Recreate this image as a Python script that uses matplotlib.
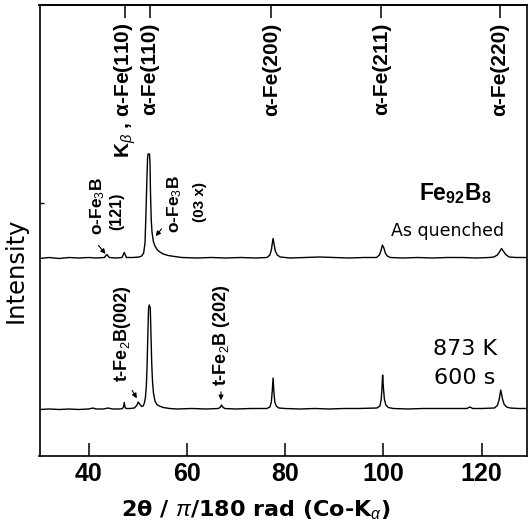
import matplotlib
matplotlib.use('Agg')
import matplotlib.pyplot as plt

plt.rcParams['mathtext.fontset'] = 'custom'
plt.rcParams['mathtext.rm'] = 'Liberation Sans'
plt.rcParams['mathtext.it'] = 'Liberation Sans:italic'
plt.rcParams['mathtext.bf'] = 'Liberation Sans:bold'

# ---------------- data (2theta in degrees, intensity in arbitrary units) -------------
quenched_2theta = [30, 32, 34, 36, 38, 40, 41.5, 43.2, 43.7, 44.2, 45.5, 46.8, 47.25, 47.7,
                   49, 50.3, 50.8, 51.2, 51.48, 51.68, 51.85, 52.0, 52.1, 52.4, 52.5, 52.6,
                   52.75, 52.9, 53.2, 53.5, 54.0, 54.5, 55.2, 56.2, 57.5, 59, 62, 65, 68, 71,
                   74, 76.3, 76.9, 77.2, 77.4, 77.55, 77.75, 78.0, 78.4, 79.0, 81, 84, 87, 90,
                   93, 96, 98.6, 99.2, 99.5, 99.8, 100.1, 100.4, 100.8, 101.4, 104, 107, 110,
                   113, 116, 119, 121.5, 122.5, 123.2, 123.7, 124.05, 124.4, 124.9, 125.6,
                   127, 129.4]
quenched_int = [197.5, 198.5, 197.5, 198.5, 198, 198.5, 198, 198.5, 201.5, 198.5, 198, 198.5,
                203.5, 198.5, 198.5, 199, 200, 203, 213, 244, 275, 298, 302, 302, 292, 262,
                236, 224, 214, 210, 206, 204, 202, 200.5, 199.5, 198.5, 198, 198.5, 198,
                198.5, 198, 198.5, 201, 206, 213, 217.5, 212, 205, 201, 199, 198, 198.5, 199,
                198.5, 198, 198.5, 198.5, 201, 205, 211, 208, 203, 200, 198.5, 198, 198.5,
                198, 198.5, 198.5, 198, 198.5, 199, 201, 204.5, 207.5, 205, 201.5, 199,
                198.5, 198.5]

annealed_2theta = [30, 32, 34, 36, 38, 40, 40.9, 41.5, 43, 44, 44.8, 46.3, 46.9, 47.1, 47.25,
                   47.4, 47.6, 48.5, 49.3, 49.8, 50.1, 50.45, 50.8, 51.1, 51.35, 51.55, 51.75,
                   51.9, 52.05, 52.2, 52.35, 52.55, 52.7, 52.85, 53.0, 53.2, 53.5, 53.9, 54.4,
                   55.2, 56.5, 58, 61, 64, 66.4, 66.85, 67.05, 67.3, 67.7, 70, 73, 76.3, 76.9,
                   77.2, 77.38, 77.55, 77.72, 77.9, 78.2, 78.7, 80, 83, 86, 89, 92, 95, 98.7,
                   99.3, 99.55, 99.72, 99.85, 100.0, 100.2, 100.5, 101.0, 102, 105, 108, 111,
                   114, 117, 117.6, 118.2, 120, 122.6, 123.2, 123.55, 123.9, 124.25, 124.6,
                   125.1, 125.8, 127.5, 129.4]
annealed_int = [46.5, 47, 46.5, 47, 46.5, 47, 48, 47, 47, 48, 47, 47, 47.5, 49, 53.5, 49, 47.5,
                47.5, 48, 50.5, 54, 51.5, 49.5, 50, 53, 58, 70, 90, 120, 148, 151, 148, 120,
                92, 75, 63, 55, 51.5, 50, 48.5, 47.5, 47, 47.5, 47, 47.5, 49, 51, 49, 47.5,
                47, 47.5, 47.5, 49, 54, 65, 78, 64, 54, 50, 48, 47.5, 47, 47.5, 47, 47.5,
                47.5, 48, 50, 56, 68, 81, 69, 57, 51, 48.5, 47.5, 47, 47.5, 47.5, 47.5, 47.5,
                49, 47.5, 47.5, 48, 50.5, 56, 66, 57, 51.5, 49, 48, 47.5, 47.5]

marker_pos = [47.4, 52.5, 77.2, 99.6, 123.7]
marker_labels = [r"K$_{β}$ , α-Fe(110)", "α-Fe(110)", "α-Fe(200)", "α-Fe(211)", "α-Fe(220)"]

x_ticks = [40, 60, 80, 100, 120]

# ---------------- figure -------------
fig = plt.figure(figsize=(5.28, 5.27), dpi=100)
ax = fig.add_axes([39.5 / 528, 1 - 456 / 527, (527 - 39.5) / 528, 451 / 527])

ax.plot(quenched_2theta, quenched_int, color='black', lw=1.0)
ax.plot(annealed_2theta, annealed_int, color='black', lw=1.0)

ax.set_xlim(30, 129.24)
ax.set_ylim(0, 451)

for s in ax.spines.values():
    s.set_linewidth(1.2)

ax.set_xticks(x_ticks)
ax.set_xticklabels([str(t) for t in x_ticks], fontsize=18, fontweight='bold',
                   family='Liberation Sans')
ax.tick_params(axis='x', direction='in', length=9.5, width=1.1, pad=4.5)
ax.set_yticks([253])
ax.set_yticklabels([])
ax.tick_params(axis='y', direction='in', length=3, width=1.0)

secax = ax.secondary_xaxis('top')
secax.set_xticks(marker_pos)
secax.set_xticklabels([])
secax.tick_params(direction='in', length=9.5, width=1.1)
secax.spines['top'].set_linewidth(1.2)

lab_font = dict(family='Liberation Sans', fontweight='bold')
for xp, lab in zip(marker_pos, marker_labels):
    ax.text(xp, 433, lab, rotation=90, ha='center', va='top', fontsize=15, **lab_font)

# phase annotations, upper trace
ax.text(41.9, 221, r"o-Fe$_{3}$B", rotation=90, ha='center', va='bottom', fontsize=12.5,
        **lab_font)
ax.text(45.7, 226, "(121)", rotation=90, ha='center', va='bottom', fontsize=11.5, **lab_font)
ax.text(57.6, 223, r"o-Fe$_{3}$B", rotation=90, ha='center', va='bottom', fontsize=12.5,
        **lab_font)
ax.text(62.7, 234, "(03 x)", rotation=90, ha='center', va='bottom', fontsize=11, **lab_font)

arrow = dict(arrowstyle='-|>', lw=0.8, color='black', mutation_scale=7)
ax.annotate("", xy=(43.8, 200), xytext=(41.64, 212.7), arrowprops=arrow)
ax.annotate("", xy=(53.3, 217.7), xytext=(55.2, 229.3), arrowprops=arrow)

# phase annotations, lower trace
ax.text(46.8, 74, r"t-Fe$_{2}$B(002)", rotation=90, ha='center', va='bottom', fontsize=13,
        **lab_font)
ax.text(66.95, 70, r"t-Fe$_{2}$B (202)", rotation=90, ha='center', va='bottom', fontsize=13,
        **lab_font)
ax.annotate("", xy=(50.1, 55.3), xytext=(48.57, 68), arrowprops=arrow)
ax.annotate("", xy=(66.95, 53), xytext=(66.95, 67), arrowprops=arrow)

# sample labels
ax.text(114.6, 256, r"Fe$_{\mathbf{92}}$B$_{\mathbf{8}}$", ha='center', va='baseline',
        fontsize=16.5, **lab_font)
ax.text(113, 225, "As quenched", ha='center', va='center', fontsize=12.5, family='DejaVu Sans')
ax.text(116.6, 107, "873 K", ha='center', va='center', fontsize=16, family='DejaVu Sans')
ax.text(116.6, 78, "600 s", ha='center', va='center', fontsize=16, family='DejaVu Sans')

ax.set_ylabel("Intensity", fontsize=17.5, family='DejaVu Sans')
ax.yaxis.set_label_coords(-0.024, 0.412)
ax.set_xlabel(r"2θ / $\it{π}$/180 rad (Co-K$_{α}$)", fontsize=16, family='DejaVu Sans',
              fontweight='bold')
ax.xaxis.set_label_coords(0.444, -0.095)

fig.savefig("out.png", dpi=100)
